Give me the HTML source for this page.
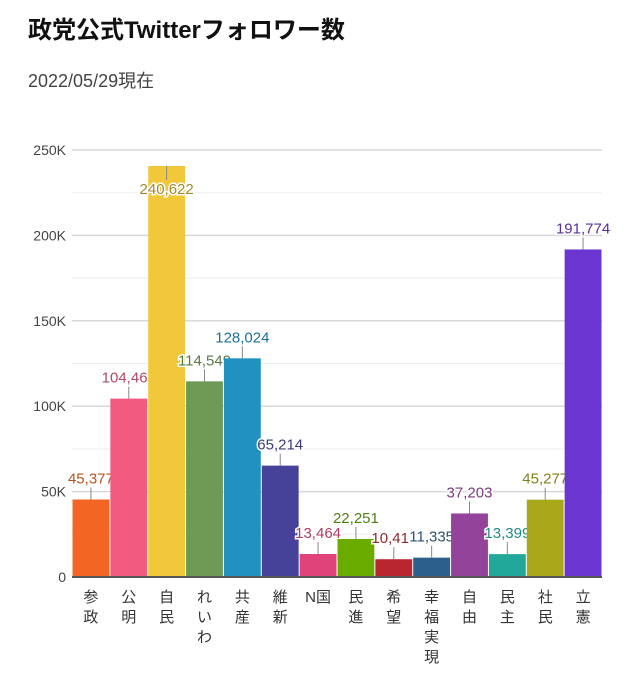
<!DOCTYPE html>
<html><head><meta charset="utf-8"><style>
body{margin:0;background:#fff;width:639px;height:690px;overflow:hidden;font-family:"Liberation Sans","Noto Sans CJK JP",sans-serif}
#t{position:absolute;left:28px;top:10px;font-size:24px;font-weight:bold;color:#111}
#s{position:absolute;left:28px;top:67px;font-size:18px;color:#444}
</style></head><body>
<div id="t">政党公式Twitterフォロワー数</div>
<div id="s">2022/05/29現在</div>
<svg id="c" width="639" height="690" style="position:absolute;left:0;top:0"></svg>
<script>
const categories=["参政","公明","自民","れいわ","共産","維新","N国","民進","希望","幸福実現","自由","民主","社民","立憲"];
const values=[45377,104463,240622,114549,128024,65214,13464,22251,10411,11335,37203,13399,45277,191774];
const colors=["#f26522","#f25a80","#f0c83a","#6e9a55","#2191c2","#474299","#e0437a","#6aab00","#b8272f","#2d5f8c","#93439a","#22a89a","#a8a81a","#6a35d0"];
const labelColors=["#b5521f","#b04a63","#a08a30","#5a7a45","#1e6f96","#3a3a7a","#b03a62","#4f7f10","#8a2a2f","#2d5070","#7a3a80","#1f8a80","#80801a","#55309e"];
const ticks=[0,50000,100000,150000,200000,250000];
const tickLabels=["0","50K","100K","150K","200K","250K"];
const svg=document.getElementById('c');const NS="http://www.w3.org/2000/svg";
const x0=72,x1=602,yb=577,yt=150,maxV=250000;
const y=v=>yb-(yb-yt)*v/maxV;
const bw=(x1-x0)/categories.length;
const xb=i=>x0+i*bw;
function el(n,a,p){const e=document.createElementNS(NS,n);for(const k in a)e.setAttribute(k,a[k]);(p||svg).appendChild(e);return e;}
for(let v=25000;v<=maxV;v+=50000){const g=el('line',{x1:x0,x2:x1,y1:y(v),y2:y(v),stroke:'#eee','stroke-width':1});

}
ticks.forEach((v,i)=>{
 if(v>0){const g=el('line',{x1:x0,x2:x1,y1:y(v),y2:y(v),stroke:'#d8d8d8','stroke-width':1.5});
 
 }
 const t=el('text',{x:66,y:y(v)+5,'text-anchor':'end','font-size':14,fill:'#444'});t.textContent=tickLabels[i];
 
 
});
values.forEach((v,i)=>{
 const b=el('rect',{x:xb(i)+0.5,y:y(v),width:bw-1,height:yb-y(v),fill:colors[i]});
 
 
 const cx=xb(i)+bw/2,top=y(v);
 const flip=top-22<yt;
 const l=el('line',{x1:cx,x2:cx,y1:top,y2:flip?top+14:top-12,stroke:'#888','stroke-width':1});
 
 
 const t=el('text',{x:cx,y:flip?top+28:top-16,'text-anchor':'middle','font-size':15,fill:labelColors[i],stroke:'#fff','stroke-width':3,'paint-order':'stroke'});
 t.textContent=v.toLocaleString('en-US');
 
 
 const g=el('text',{'text-anchor':'middle','font-size':15,fill:'#333'});
 
 
 const c=categories[i];
 const parts=c==="N国"?["N国"]:Array.from(c);
 parts.forEach((ch,j)=>{const s=el('tspan',{x:cx,y:602+j*20},g);s.textContent=ch;});
});
const ax=el('line',{x1:x0,x2:x1,y1:yb,y2:yb,stroke:'#555','stroke-width':2});


</script>
</body></html>
